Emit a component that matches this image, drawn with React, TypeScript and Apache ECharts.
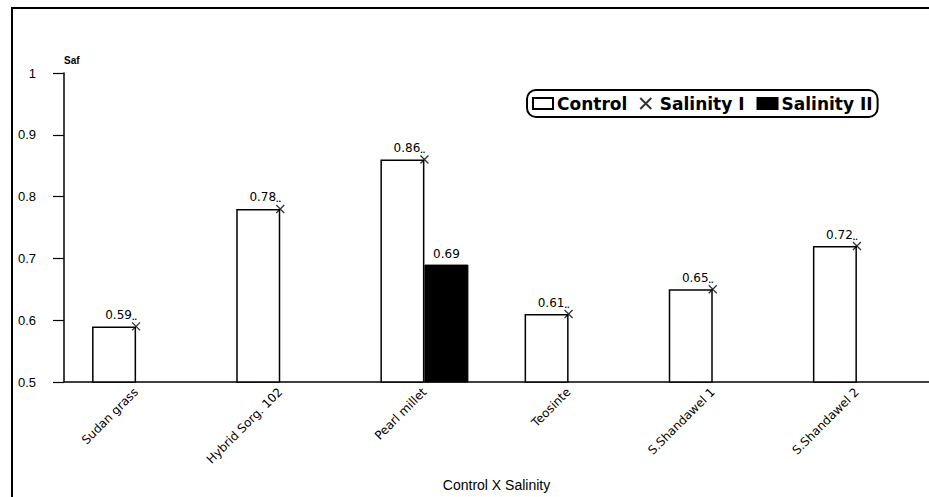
import React, { useEffect, useRef } from "react";
import * as echarts from "echarts";

const categories = [
  "Sudan grass",
  "Hybrid Sorg. 102",
  "Pearl millet",
  "Teosinte",
  "S.Shandawel 1",
  "S.Shandawel 2",
];
const controlValues = [0.59, 0.78, 0.86, 0.61, 0.65, 0.72];
const salinityIValues = [0.59, 0.78, 0.86, 0.61, 0.65, 0.72];
const salinityIIValues = [0.5, 0.5, 0.69, 0.5, 0.5, 0.5];
const yTicks = [0.5, 0.6, 0.7, 0.8, 0.9, 1];

const FONT = "'Liberation Sans', Arial, sans-serif";
const WIDE = "'DejaVu Sans', sans-serif";
const CROSS = "path://M0,0L10,10M10,0L0,10";

export default function App() {
  const ref = useRef<HTMLDivElement>(null);

  useEffect(() => {
    if (!ref.current) return;
    const chart = echarts.init(ref.current, null, { renderer: "svg" });

    const valueLabel = (p: any) => `{v|${Number(p.value).toFixed(2)}}{d|..}`;

    chart.setOption({
      animation: false,
      backgroundColor: "#fff",
      textStyle: { fontFamily: FONT, color: "#000" },
      graphic: [
        {
          type: "polyline",
          shape: { points: [[12, 500], [12, 8], [935, 8]] },
          style: { stroke: "#000", lineWidth: 2, fill: "none" },
          silent: true,
        },
      ],
      legend: {
        left: 527,
        top: 90,
        orient: "horizontal",
        borderColor: "#000",
        borderWidth: 2,
        borderRadius: 9,
        padding: [5, 5, 5, 5],
        itemGap: 12,
        itemWidth: 20,
        itemHeight: 11,
        textStyle: { fontFamily: WIDE, fontSize: 17, fontWeight: "bold", color: "#000", padding: [0, 0, 0, -1] },
        data: [
          { name: "Control", icon: "rect" },
          { name: "Salinity I", icon: CROSS },
          { name: "Salinity II", icon: "rect" },
        ],
      },
      grid: { left: 64, top: 73, width: 868, height: 317, containLabel: false },
      xAxis: {
        type: "category",
        data: categories,
        name: "Control X Salinity",
        nameLocation: "middle",
        nameGap: 96,
        nameTextStyle: { fontFamily: FONT, fontSize: 14, color: "#000" },
        axisLine: { lineStyle: { color: "#000", width: 1.5 } },
        axisTick: { alignWithLabel: true, length: 7, lineStyle: { color: "#000", width: 1 } },
        axisLabel: {
          rotate: 45,
          margin: 8,
          fontFamily: WIDE,
          fontSize: 12,
          color: "#000",
        },
      },
      yAxis: {
        type: "value",
        min: 0.5,
        max: 1,
        interval: 0.1,
        name: "Saf",
        nameLocation: "end",
        nameGap: 13,
        nameTextStyle: { fontFamily: FONT, fontSize: 10, fontWeight: "bold", color: "#000", align: "left", verticalAlign: "middle" },
        splitLine: { show: false },
        axisLine: { show: true, lineStyle: { color: "#000", width: 1.5 } },
        axisTick: { show: true, length: 11, lineStyle: { color: "#000", width: 1.2 } },
        axisLabel: {
          margin: 28,
          fontFamily: FONT,
          fontSize: 13,
          color: "#000",
          formatter: (v: number) => {
            const t = yTicks.find((k) => Math.abs(k - v) < 1e-6);
            return t === undefined ? "" : t === 1 ? "1" : t.toFixed(1);
          },
        },
      },
      series: [
        {
          name: "Control",
          type: "bar",
          data: controlValues,
          barWidth: 44,
          barGap: "0%",
          itemStyle: { color: "#fff", borderColor: "#000", borderWidth: 1.5 },
          label: {
            show: true,
            position: "top",
            distance: 5,
            offset: [7, 0],
            formatter: valueLabel,
            rich: {
              v: { fontFamily: WIDE, fontSize: 12, color: "#000" },
              d: { fontFamily: FONT, fontSize: 9, fontWeight: "bold", color: "#000", verticalAlign: "bottom", padding: [4, 0, 0, 0] },
            },
          },
          z: 2,
        },
        {
          name: "Salinity II",
          type: "bar",
          data: salinityIIValues.map((v) => ({
            value: v,
            label: { show: v > 0.5 },
          })),
          barWidth: 44,
          barGap: "0%",
          barMinHeight: 2,
          itemStyle: { color: "#000", borderColor: "#000", borderWidth: 1 },
          label: {
            position: "top",
            distance: 5,
            fontFamily: WIDE,
            fontSize: 12,
            color: "#000",
            formatter: (p: any) => Number(p.value).toFixed(2),
          },
          z: 2,
        },
        {
          name: "Salinity I",
          type: "scatter",
          data: salinityIValues,
          symbol: CROSS,
          symbolSize: 8,
          itemStyle: { color: "#000", borderColor: "#000", borderWidth: 1.3 },
          z: 3,
        },
      ],
    });

    return () => chart.dispose();
  }, []);

  return (
    <div
      ref={ref}
      style={{ position: "fixed", left: 0, top: 0, width: 929, height: 497, background: "#fff" }}
    />
  );
}
